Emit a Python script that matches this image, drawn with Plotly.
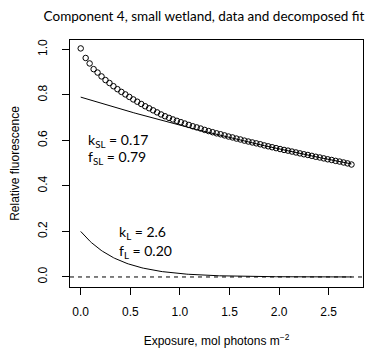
import numpy as np
import plotly.graph_objects as go

# Measured relative fluorescence versus cumulative exposure
exposure = [0.00, 0.05, 0.09, 0.13, 0.17, 0.21, 0.25, 0.29, 0.33, 0.37,
            0.41, 0.45, 0.49, 0.53, 0.57, 0.61, 0.65, 0.69, 0.73, 0.77,
            0.81, 0.85, 0.89, 0.93, 0.97, 1.01, 1.05, 1.09, 1.13, 1.17,
            1.21, 1.25, 1.29, 1.33, 1.37, 1.41, 1.45, 1.49, 1.53, 1.57,
            1.61, 1.65, 1.69, 1.73, 1.77, 1.81, 1.85, 1.89, 1.93, 1.97,
            2.01, 2.05, 2.09, 2.13, 2.17, 2.21, 2.25, 2.29, 2.33, 2.37,
            2.41, 2.45, 2.49, 2.53, 2.57, 2.61, 2.65, 2.69, 2.73]
fluorescence = [1.004, 0.962, 0.938, 0.913, 0.898, 0.881, 0.865, 0.852, 0.838, 0.825,
                0.813, 0.802, 0.791, 0.780, 0.770, 0.760, 0.750, 0.741, 0.732, 0.723,
                0.714, 0.706, 0.699, 0.692, 0.686, 0.680, 0.674, 0.668, 0.662, 0.657,
                0.652, 0.646, 0.641, 0.636, 0.631, 0.627, 0.622, 0.617, 0.613, 0.608,
                0.604, 0.599, 0.595, 0.591, 0.587, 0.583, 0.578, 0.574, 0.570, 0.566,
                0.562, 0.558, 0.555, 0.551, 0.547, 0.543, 0.539, 0.536, 0.532, 0.528,
                0.525, 0.521, 0.517, 0.514, 0.510, 0.507, 0.503, 0.499, 0.494]

# Fitted parameters of the two decay components
k_SL, f_SL = 0.17, 0.79
k_L, f_L = 2.6, 0.20

x_ticks = [0.0, 0.5, 1.0, 1.5, 2.0, 2.5]
y_ticks = [0.0, 0.2, 0.4, 0.6, 0.8, 1.0]

xs = np.linspace(0, max(exposure), 200)
slow = f_SL * np.exp(-k_SL * xs)
fast = f_L * np.exp(-k_L * xs)

AX_FONT = dict(family="Liberation Sans, Arial, sans-serif", size=12, color="black")
TXT_FONT = dict(family="Lato, sans-serif", size=14, color="black")

fig = go.Figure()
fig.add_trace(go.Scatter(x=xs, y=slow, mode="lines",
                         line=dict(color="black", width=1), showlegend=False))
fig.add_trace(go.Scatter(x=xs, y=fast, mode="lines",
                         line=dict(color="black", width=1), showlegend=False))
fig.add_trace(go.Scatter(x=exposure, y=fluorescence, mode="markers",
                         marker=dict(symbol="circle-open", size=5.5, color="black",
                                     line=dict(width=1, color="black")),
                         showlegend=False))

# horizontal reference at zero
fig.add_shape(type="line", xref="paper", yref="y", x0=0, x1=1, y0=0, y1=0,
              line=dict(color="black", width=1, dash="4px,4px"))

fig.add_annotation(x=0.057, y=0.600, xref="x", yref="y", xanchor="left",
                   text=f"k<sub>SL</sub> = {k_SL:.2f}", showarrow=False, font=TXT_FONT)
fig.add_annotation(x=0.057, y=0.526, xref="x", yref="y", xanchor="left",
                   text=f"f<sub>SL</sub> = {f_SL:.2f}", showarrow=False, font=TXT_FONT)
fig.add_annotation(x=0.37, y=0.194, xref="x", yref="y", xanchor="left",
                   text=f"k<sub>L</sub> = {k_L:.1f}", showarrow=False, font=TXT_FONT)
fig.add_annotation(x=0.37, y=0.113, xref="x", yref="y", xanchor="left",
                   text=f"f<sub>L</sub> = {f_L:.2f}", showarrow=False, font=TXT_FONT)

fig.update_layout(
    width=390, height=348,
    margin=dict(l=70, r=27, t=40, b=61, autoexpand=False),
    plot_bgcolor="white", paper_bgcolor="white",
    title=dict(text="Component 4, small wetland, data and decomposed fit",
               x=204 / 390, xanchor="center", y=1 - 16 / 348, yanchor="middle",
               font=dict(family="Lato, sans-serif", size=13.5, color="black")),
    xaxis=dict(range=[-0.108, 2.846], tickvals=x_ticks,
               ticktext=[f"{v:.1f}" for v in x_ticks],
               ticks="outside", ticklen=7, tickcolor="black", tickwidth=1,
               showline=True, linecolor="black", linewidth=1, mirror=True,
               showgrid=False, zeroline=False, tickfont=AX_FONT,
               ticklabelstandoff=7, automargin=False,
               title=dict(text="Exposure, mol photons m<sup>\u22122</sup>",
                          font=AX_FONT, standoff=22)),
    yaxis=dict(range=[-0.044, 1.041], tickvals=y_ticks,
               ticktext=[f"{v:.1f}" for v in y_ticks],
               ticks="outside", ticklen=7, tickcolor="black", tickwidth=1,
               showline=True, linecolor="black", linewidth=1, mirror=True,
               showgrid=False, zeroline=False, tickfont=AX_FONT, tickangle=-90,
               ticklabelstandoff=10, automargin=False,
               title=dict(text="Relative fluorescence", font=AX_FONT, standoff=14)),
)

fig.write_html("out.html")
